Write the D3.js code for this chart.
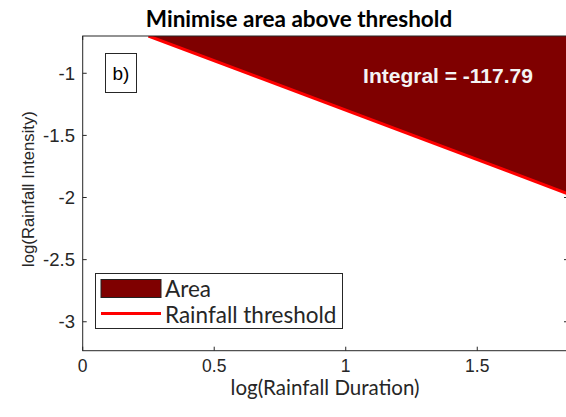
<!DOCTYPE html>
<html>
<head>
<meta charset="utf-8">
<script src="https://cdn.jsdelivr.net/npm/d3@7"></script>
<style>
  body { margin: 0; background: #fff; }
  svg { display: block; }
</style>
</head>
<body>
<div class="chart"></div>
<script>
/*** DATA ***/
// threshold line end points (log duration, log intensity)
const thresholdDuration = [0.25, 1.845];
const thresholdIntensity = [-0.70, -1.97];
const xTicks = [0, 0.5, 1, 1.5];
const yTicks = [-3, -2.5, -2, -1.5, -1];
const legendLabels = ['Area', 'Rainfall threshold'];
const integralLabel = 'Integral = -117.79';
const panelLabel = 'b)';

/*** LAYOUT ***/
const W = 566, H = 417;
const box = { left: 82.7, top: 36, right: 568, bottom: 350.7 };
const axisColor = '#262626';
const calibri = 'Lato, "Open Sans", sans-serif';
const arial = '"Liberation Sans", Arial, sans-serif';

const svg = d3.select('.chart')
  .append('svg')
  .attr('width', W)
  .attr('height', H);

const x = d3.scaleLinear().domain([0, 1.845]).range([box.left, box.right]);
const y = d3.scaleLinear().domain([-3.233, -0.70]).range([box.bottom, box.top]);

svg.append('clipPath').attr('id', 'clip')
  .append('rect')
  .attr('x', box.left).attr('y', box.top)
  .attr('width', box.right - box.left).attr('height', box.bottom - box.top);

// ticks (inward, mirrored on all sides)
const tickLen = 4;
const ticks = svg.append('g')
  .attr('stroke', axisColor)
  .attr('stroke-width', 1);

xTicks.forEach(t => {
  ticks.append('line').attr('x1', x(t)).attr('x2', x(t))
    .attr('y1', box.bottom).attr('y2', box.bottom - tickLen);
  ticks.append('line').attr('x1', x(t)).attr('x2', x(t))
    .attr('y1', box.top).attr('y2', box.top + tickLen);
});
yTicks.forEach(t => {
  ticks.append('line').attr('y1', y(t)).attr('y2', y(t))
    .attr('x1', box.left).attr('x2', box.left + tickLen);
  ticks.append('line').attr('y1', y(t)).attr('y2', y(t))
    .attr('x1', box.right).attr('x2', box.right - tickLen);
});

// tick labels
svg.append('g').selectAll('text')
  .data(xTicks)
  .join('text')
  .attr('x', d => x(d))
  .attr('y', 372)
  .attr('text-anchor', 'middle')
  .style('font-family', arial)
  .style('font-size', '17.5px')
  .style('fill', axisColor)
  .text(d => d);

svg.append('g').selectAll('text')
  .data(yTicks)
  .join('text')
  .attr('x', 75)
  .attr('y', d => y(d) + 6.5)
  .attr('text-anchor', 'end')
  .style('font-family', arial)
  .style('font-size', '18.5px')
  .style('fill', axisColor)
  .text(d => d);

/*** AREA + THRESHOLD ***/
const pts = thresholdDuration.map((d, i) => [d, thresholdIntensity[i]]);
const plot = svg.append('g').attr('clip-path', 'url(#clip)');

plot.append('path')
  .datum(pts)
  .attr('d', d3.area()
    .x(d => x(d[0]))
    .y0(y.range()[1])
    .y1(d => y(d[1])))
  .attr('fill', '#7f0000');

plot.append('path')
  .datum(pts)
  .attr('d', d3.line().x(d => x(d[0])).y(d => y(d[1])))
  .attr('fill', 'none')
  .attr('stroke', '#ff0000')
  .attr('stroke-width', 3);

// box outline
svg.append('rect')
  .attr('x', box.left).attr('y', box.top)
  .attr('width', box.right - box.left).attr('height', box.bottom - box.top)
  .attr('fill', 'none')
  .attr('stroke', axisColor)
  .attr('stroke-width', 1);

/*** TEXT ***/
svg.append('text')
  .attr('x', 299).attr('y', 27)
  .attr('text-anchor', 'middle')
  .style('font-family', calibri)
  .style('font-weight', 'bold')
  .style('font-size', '22.5px')
  .style('fill', '#000')
  .text('Minimise area above threshold');

svg.append('text')
  .attr('x', 325).attr('y', 395)
  .attr('text-anchor', 'middle')
  .style('font-family', calibri)
  .style('font-size', '20.5px')
  .style('fill', axisColor)
  .text('log(Rainfall Duration)');

svg.append('text')
  .attr('transform', `translate(34, 189) rotate(-90)`)
  .attr('text-anchor', 'middle')
  .style('font-family', arial)
  .style('font-size', '16.7px')
  .style('fill', axisColor)
  .text('log(Rainfall Intensity)');

svg.append('text')
  .attr('x', 448).attr('y', 83)
  .attr('text-anchor', 'middle')
  .style('font-family', arial)
  .style('font-weight', 'bold')
  .style('font-size', '21px')
  .style('fill', '#f4f4f4')
  .text(integralLabel);

// panel label
svg.append('rect')
  .attr('x', 105.5).attr('y', 53.5).attr('width', 31).attr('height', 39)
  .attr('fill', '#fff').attr('stroke', axisColor);
svg.append('text')
  .attr('x', 121).attr('y', 80)
  .attr('text-anchor', 'middle')
  .style('font-family', arial)
  .style('font-size', '19px')
  .style('fill', '#000')
  .text(panelLabel);

/*** LEGEND ***/
const legend = svg.append('g');
legend.append('rect')
  .attr('x', 95.5).attr('y', 273.5).attr('width', 247).attr('height', 55)
  .attr('fill', '#fff').attr('stroke', axisColor);
legend.append('rect')
  .attr('x', 101).attr('y', 279.5).attr('width', 60).attr('height', 18)
  .attr('fill', '#7f0000').attr('stroke', '#222');
legend.append('line')
  .attr('x1', 101).attr('x2', 161).attr('y1', 313.5).attr('y2', 313.5)
  .attr('stroke', '#ff0000').attr('stroke-width', 3);
legend.selectAll('text.lg')
  .data(legendLabels)
  .join('text')
  .attr('class', 'lg')
  .attr('x', 165)
  .attr('y', (d, i) => 297 + i * 26)
  .style('font-family', calibri)
  .style('font-size', '22.5px')
  .style('fill', axisColor)
  .text(d => d);
</script>
</body>
</html>
